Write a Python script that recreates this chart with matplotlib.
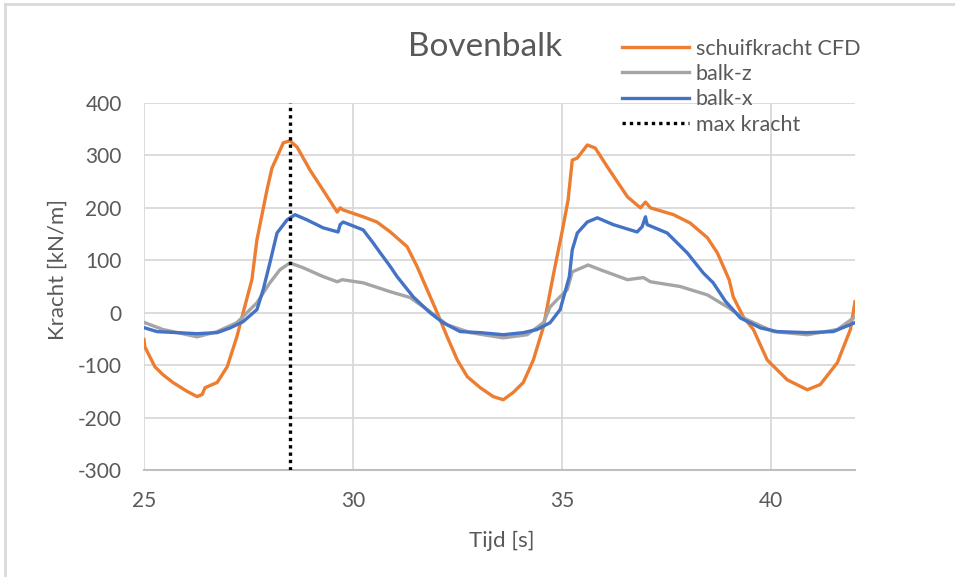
import matplotlib.pyplot as plt
from matplotlib.lines import Line2D

plt.rcParams['font.family'] = ['Lato', 'DejaVu Sans']
plt.rcParams['axes.unicode_minus'] = False

# schuifkracht CFD
t_cfd = [25.00, 25.02, 25.26, 25.45, 25.69, 26.03, 26.27, 26.39, 26.46, 26.75,
         26.99, 27.22, 27.37, 27.58, 27.70, 27.94, 28.06, 28.18, 28.33, 28.49,
         28.66, 28.97, 29.28, 29.62, 29.69, 29.76, 30.24, 30.57, 30.89, 31.29,
         31.53, 31.77, 32.01, 32.25, 32.49, 32.73, 33.04, 33.35, 33.59, 33.83,
         34.07, 34.31, 34.55, 34.78, 35.02, 35.14, 35.24, 35.36, 35.60, 35.79,
         36.08, 36.56, 36.87, 36.99, 37.11, 37.66, 38.06, 38.47, 38.71, 38.99,
         39.09, 39.33, 39.57, 39.90, 40.38, 40.86, 41.17, 41.58, 41.89, 42.00]
f_cfd = [-51, -65, -103, -118, -133, -150, -160, -156, -143, -133,
         -103, -46, 0, 63, 139, 234, 276, 297, 324, 328,
         316, 272, 234, 192, 200, 196, 183, 173, 154, 126,
         88, 44, 0, -46, -90, -122, -143, -160, -166, -152,
         -133, -90, -27, 69, 164, 215, 291, 295, 320, 314,
         278, 221, 200, 211, 200, 187, 171, 143, 114, 63,
         30, -8, -32, -90, -128, -147, -137, -95, -32, 21]

# balk-z
t_z = [25.02, 25.45, 26.27, 26.75, 27.22, 27.70, 28.01, 28.25, 28.49, 28.80,
       29.28, 29.62, 29.74, 30.24, 30.89, 31.36, 31.84, 32.25, 32.80, 33.59,
       34.16, 34.55, 34.71, 34.88, 35.12, 35.24, 35.62, 35.91, 36.56, 36.94,
       37.11, 37.82, 38.47, 38.95, 39.33, 40.05, 40.86, 41.58, 42.00]
f_z = [-19, -32, -46, -36, -19, 19, 57, 82, 95, 86,
       69, 59, 63, 57, 40, 29, 2, -23, -38, -48,
       -42, -19, 11, 25, 44, 78, 91, 82, 63, 67,
       59, 50, 34, 11, -10, -36, -42, -32, -8]

# balk-x
t_x = [25.02, 25.31, 26.27, 26.75, 27.06, 27.37, 27.70, 27.85, 28.01, 28.18,
       28.42, 28.61, 28.90, 29.28, 29.64, 29.69, 29.76, 30.24, 30.48, 30.65,
       30.89, 31.05, 31.44, 31.84, 32.15, 32.56, 33.04, 33.59, 34.07, 34.40,
       34.71, 34.95, 35.17, 35.24, 35.36, 35.60, 35.84, 36.22, 36.79, 36.91,
       36.99, 37.03, 37.51, 37.99, 38.37, 38.61, 38.90, 39.26, 39.74, 40.14,
       40.86, 41.48, 42.00]
f_x = [-29, -36, -40, -38, -29, -17, 6, 44, 95, 152,
       177, 187, 177, 162, 154, 168, 173, 158, 133, 114,
       88, 69, 30, 0, -19, -36, -38, -42, -38, -32,
       -19, 6, 69, 120, 152, 173, 181, 168, 154, 164,
       183, 168, 152, 114, 76, 57, 22, -10, -29, -36,
       -38, -36, -19]

t_max = 28.5
labels = ['schuifkracht CFD', 'balk-z', 'balk-x', 'max kracht']
colors = ['#ED7D31', '#A5A5A5', '#4472C4', 'black']
text_grey = '#595959'
dotted = (0, (1, 1.2))

fig = plt.figure(figsize=(9.55, 5.77), dpi=100)
ax = fig.add_axes([144 / 955, 1 - 470 / 577, 711 / 955, 367 / 577])

ax.plot(t_cfd, f_cfd, color=colors[0], lw=2.4, zorder=3)
ax.plot(t_z, f_z, color=colors[1], lw=2.4, zorder=3)
ax.plot(t_x, f_x, color=colors[2], lw=2.4, zorder=4)
ax.plot([t_max, t_max], [-300, 400], color=colors[3], lw=2.4, ls=dotted, zorder=5)

ax.set_xlim(25, 42)
ax.set_ylim(-300, 400)
ax.set_xticks([25, 30, 35, 40])
ax.set_yticks(range(-300, 401, 100))
ax.grid(True, color='#d9d9d9', lw=1.3)
ax.set_axisbelow(True)
for side in ['top', 'right', 'left']:
    ax.spines[side].set_visible(False)
ax.spines['bottom'].set_color('#bfbfbf')
ax.spines['bottom'].set_linewidth(1.5)
ax.tick_params(length=0, labelsize=15, labelcolor=text_grey)
ax.tick_params(axis='x', pad=15)
ax.tick_params(axis='y', pad=16)

# axis titles and chart title
fig.text(502 / 955, 1 - 541 / 577, 'Tijd [s]', fontsize=16, color=text_grey,
         ha='center', va='center')
fig.text(58 / 955, 1 - 270 / 577, 'Kracht [kN/m]', rotation=90, fontsize=16,
         color=text_grey, ha='center', va='center')
fig.text(485 / 955, 1 - 47 / 577, 'Bovenbalk', fontsize=24, color=text_grey,
         ha='center', va='center')

handles = [Line2D([], [], color=c, lw=2.4) for c in colors[:3]]
handles.append(Line2D([], [], color='black', lw=2.4, ls=dotted))
fig.legend(handles, labels, loc='upper left', bbox_to_anchor=(613 / 955, 1 - 30 / 577),
           frameon=False, fontsize=15.5, labelcolor=text_grey, handlelength=3.15,
           handletextpad=0.3, labelspacing=0.25, borderaxespad=0)

# chart area border (left and top edges)
fig.add_artist(Line2D([5 / 955, 5 / 955], [0, 1 - 4 / 577], color='#d9d9d9', lw=2,
                      transform=fig.transFigure))
fig.add_artist(Line2D([5 / 955, 1], [1 - 4 / 577, 1 - 4 / 577], color='#d9d9d9', lw=2,
                      transform=fig.transFigure))

fig.savefig('out.png', dpi=100)
